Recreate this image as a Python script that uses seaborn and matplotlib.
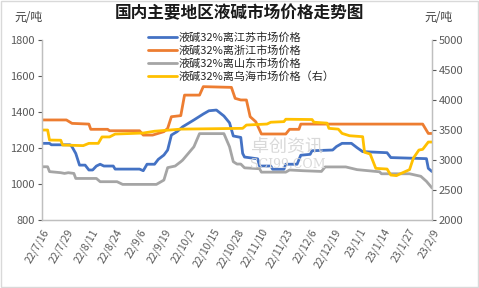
import pandas as pd
import numpy as np
import matplotlib
matplotlib.use("Agg")
import matplotlib.pyplot as plt
import matplotlib.dates as mdates
import seaborn as sns

# ---------------- data ----------------
js_dates = ["2022-07-16","2022-07-20","2022-07-21","2022-07-31","2022-08-01","2022-08-03","2022-08-05",
            "2022-08-08","2022-08-10","2022-08-12","2022-08-14","2022-08-16","2022-08-18","2022-08-23",
            "2022-08-24","2022-09-06","2022-09-08","2022-09-10","2022-09-14","2022-09-16","2022-09-19",
            "2022-09-21","2022-09-23","2022-09-26","2022-09-29","2022-10-05","2022-10-10","2022-10-13",
            "2022-10-17","2022-10-21","2022-10-24","2022-10-26","2022-10-30","2022-10-31","2022-11-01",
            "2022-11-08","2022-11-09","2022-11-15","2022-11-16","2022-11-22","2022-11-23","2022-11-29",
            "2022-12-01","2022-12-06","2022-12-07","2022-12-18","2022-12-20","2022-12-23","2022-12-28",
            "2022-12-31","2023-01-03","2023-01-16","2023-01-18","2023-02-06","2023-02-07","2023-02-09"]
js_vals = [1226,1226,1218,1218,1207,1170,1105,
           1105,1078,1078,1100,1110,1100,1100,
           1083,1083,1074,1110,1110,1137,1161,
           1189,1272,1291,1318,1356,1389,1407,
           1411,1378,1340,1267,1259,1170,1150,
           1140,1100,1100,1082,1082,1110,1110,
           1160,1165,1185,1189,1208,1226,1226,
           1202,1180,1174,1147,1141,1087,1069]

zj_dates = ["2022-07-16","2022-07-29","2022-08-01","2022-08-10","2022-08-11","2022-08-20","2022-08-21",
            "2022-09-06","2022-09-08","2022-09-13","2022-09-19","2022-09-21","2022-09-23","2022-09-28",
            "2022-09-30","2022-10-08","2022-10-10","2022-10-25","2022-10-27","2022-10-30","2022-11-02",
            "2022-11-04","2022-11-07","2022-11-10","2022-11-23","2022-11-25","2022-11-30","2022-12-01",
            "2023-02-04","2023-02-07","2023-02-09"]
zj_vals = [1356,1356,1337,1333,1304,1304,1296,
           1296,1272,1272,1291,1309,1374,1380,
           1494,1494,1541,1537,1476,1467,1467,
           1374,1346,1278,1278,1304,1304,1333,
           1333,1281,1281]

sd_dates = ["2022-07-16","2022-07-19","2022-07-20","2022-07-26","2022-07-28","2022-07-30","2022-08-02",
            "2022-08-03","2022-08-14","2022-08-16","2022-08-25","2022-08-28","2022-09-15","2022-09-19",
            "2022-09-21","2022-09-25","2022-09-28","2022-09-29","2022-10-05","2022-10-08","2022-10-21",
            "2022-10-24","2022-10-26","2022-10-28","2022-10-30","2022-11-01","2022-11-09","2022-11-10",
            "2022-11-23","2022-11-25","2022-12-02","2022-12-12","2022-12-14","2022-12-25","2022-12-31",
            "2023-01-12","2023-01-13","2023-01-28","2023-02-03","2023-02-06","2023-02-09"]
sd_vals = [1096,1096,1069,1063,1059,1063,1059,
           1031,1031,1013,1013,998,998,1022,
           1091,1100,1124,1133,1207,1280,1280,
           1207,1124,1111,1111,1090,1085,1066,
           1066,1078,1074,1070,1095,1095,1080,
           1068,1057,1057,1043,1015,978]

wh_dates = ["2022-07-16","2022-07-19","2022-07-20","2022-07-26","2022-07-27","2022-08-07","2022-08-10",
            "2022-08-15","2022-08-17","2022-08-21","2022-08-24","2022-09-08","2022-09-14","2022-09-28",
            "2022-10-31","2022-11-02","2022-11-13","2022-11-15","2022-11-22","2022-11-23","2022-12-07",
            "2022-12-08","2022-12-15","2022-12-16","2022-12-21","2022-12-23","2022-12-27","2023-01-03",
            "2023-01-04","2023-01-07","2023-01-10","2023-01-16","2023-01-18","2023-01-21","2023-01-23",
            "2023-01-28","2023-01-30","2023-02-02","2023-02-04","2023-02-07","2023-02-09"]
wh_vals = [3500,3500,3333,3330,3250,3240,3278,
           3278,3385,3385,3433,3450,3480,3515,
           3528,3583,3600,3630,3640,3680,3675,
           3630,3615,3528,3515,3444,3405,3389,
           3130,3100,2861,2850,2750,2740,2770,
           2840,3030,3167,3178,3300,3300]

labels = ["液碱32%离江苏市场价格", "液碱32%离浙江市场价格",
          "液碱32%离山东市场价格", "液碱32%离乌海市场价格（右）"]
colors = ["#4472C4", "#ED7D31", "#A5A5A5", "#FFC000"]
title = "国内主要地区液碱市场价格走势图"
unit = "元/吨"

# ---------------- plot ----------------
sns.set_theme(style="white")
plt.rcParams["font.family"] = ["Noto Sans CJK SC", "DejaVu Sans"]

fig = plt.figure(figsize=(4.79, 2.88), dpi=100)
ax = fig.add_axes([0.0877, 0.236, 0.8143, 0.625])
ax2 = ax.twinx()

lw = 2.0
left_series = [(js_dates, js_vals), (zj_dates, zj_vals), (sd_dates, sd_vals)]
for (d, v), lab, c in zip(left_series, labels[:3], colors[:3]):
    df = pd.DataFrame({"date": pd.to_datetime(d), "val": v})
    sns.lineplot(data=df, x="date", y="val", ax=ax, color=c, linewidth=lw, label=lab, legend=False)
dfw = pd.DataFrame({"date": pd.to_datetime(wh_dates), "val": wh_vals})
sns.lineplot(data=dfw, x="date", y="val", ax=ax2, color=colors[3], linewidth=lw, label=labels[3], legend=False)

start = pd.Timestamp("2022-07-16")
end = pd.Timestamp("2023-02-09")
ax.set_xlim(start, end)
ticks = pd.date_range(start, end, freq="13D")
ax.set_xticks(ticks)
ax.set_xticklabels([f"{t.year % 100}/{t.month}/{t.day}" for t in ticks],
                   rotation=60, ha="right", rotation_mode="anchor", fontsize=7.5, color="#595959")

ax.set_ylim(800, 1800)
ax.set_yticks(range(800, 1801, 200))
ax2.set_ylim(2000, 5000)
ax2.set_yticks(range(2000, 5001, 500))
for a in (ax, ax2):
    a.set_xlabel("")
    a.set_ylabel("")
    a.grid(False)
    a.tick_params(axis="y", labelsize=8, colors="#595959", length=3, width=0.8, direction="out", pad=2)
    for s in a.spines.values():
        s.set_color("#BFBFBF")
        s.set_linewidth(0.9)
    a.spines["top"].set_visible(False)
ax.tick_params(axis="x", length=3, width=0.8, colors="#BFBFBF", direction="out", pad=2)
for lbl in ax.get_xticklabels():
    lbl.set_color("#595959")
ax.tick_params(axis="y", left=True)
ax2.tick_params(axis="y", right=True)
ax.patch.set_alpha(0)

# watermark
fig.text(0.60, 0.49, "卓创资讯", fontsize=13, color="#D9D9D9", ha="center", va="center", zorder=0)
fig.text(0.60, 0.43, "SCI99.COM", fontsize=9, color="#D9D9D9", ha="center", va="center",
         family=["DejaVu Serif"], zorder=0)

# legend
h1, l1 = ax.get_legend_handles_labels()
h2, l2 = ax2.get_legend_handles_labels()
leg = ax2.legend(h1 + h2, l1 + l2, loc="upper left", bbox_to_anchor=(0.26, 1.07), frameon=False,
                 fontsize=8, handlelength=2.6, handletextpad=0.2, labelspacing=0.22, borderaxespad=0)
for t in leg.get_texts():
    t.set_color("#262626")

fig.text(0.5, 0.955, title, ha="center", va="center", fontsize=12, fontweight="bold", color="#1a1a1a")
fig.text(0.03, 0.94, unit, ha="left", va="center", fontsize=8.5, color="#404040")
fig.text(0.887, 0.94, unit, ha="left", va="center", fontsize=8.5, color="#404040")

# border
fig.patches.append(plt.Rectangle((0.002, 0.003), 0.995, 0.994, transform=fig.transFigure,
                                 fill=False, edgecolor="#D9D9D9", linewidth=1))

fig.savefig("out.png", dpi=100)
